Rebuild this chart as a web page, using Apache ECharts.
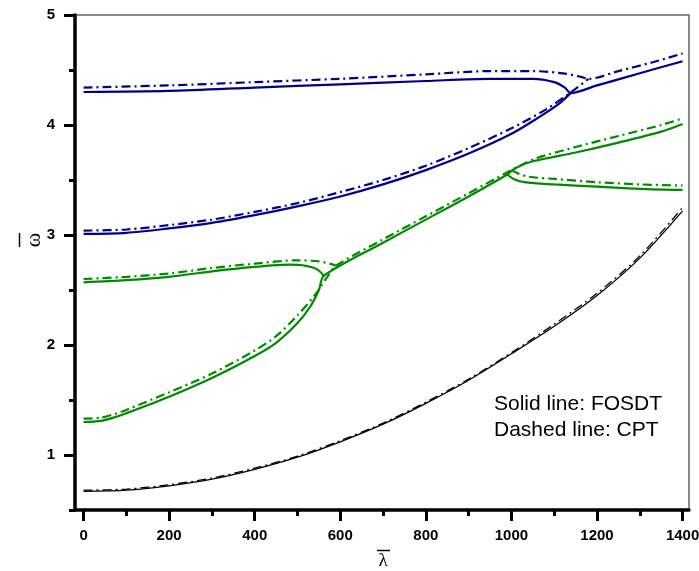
<!DOCTYPE html>
<html><head><meta charset="utf-8">
<script src="https://cdn.jsdelivr.net/npm/echarts@6/dist/echarts.min.js"></script>
<style>html,body{margin:0;padding:0;background:#fff}#c{width:699px;height:571px}</style>
</head><body><div id="c"></div>
<script>
// ---- data (lambda, omega) ----
const xMajorTicks = [0, 200, 400, 600, 800, 1000, 1200, 1400];
const xMinorTicks = [100, 300, 500, 700, 900, 1100, 1300];
const yMajorTicks = [1, 2, 3, 4, 5];
const yMinorTicks = [0.5, 1.5, 2.5, 3.5, 4.5];

// blue mode, FOSDT (solid)
const blueSolidA = [[0,4.30],[200,4.31],[400,4.34],[600,4.37],[800,4.40],[950,4.42],[1050,4.42],[1100,4.39],[1125,4.34],[1138,4.29],[1200,4.36],[1300,4.47],[1400,4.58]];
const blueSolidB = [[0,3.01],[100,3.02],[200,3.06],[300,3.11],[400,3.18],[500,3.26],[600,3.35],[700,3.46],[800,3.59],[900,3.74],[1000,3.92],[1060,4.06],[1110,4.19],[1138,4.29]];
// blue mode, CPT (dash-dot)
const blueDashA = [[0,4.34],[200,4.36],[400,4.39],[600,4.42],[800,4.46],[950,4.49],[1050,4.49],[1120,4.47],[1160,4.44],[1180,4.42],[1250,4.49],[1330,4.57],[1400,4.65]];
const blueDashB = [[0,3.04],[100,3.05],[200,3.09],[300,3.14],[400,3.21],[500,3.29],[600,3.39],[700,3.50],[800,3.63],[900,3.79],[1000,3.97],[1080,4.14],[1140,4.30],[1180,4.42]];

// green mode, FOSDT (solid)
const greenSolidA = [[0,1.30],[40,1.31],[70,1.34],[100,1.38],[200,1.53],[300,1.70],[400,1.90],[450,2.02],[500,2.20],[530,2.35],[550,2.50],[562,2.63],[700,2.93],[800,3.14],[900,3.35],[990,3.55],[1010,3.61],[1050,3.67],[1150,3.75],[1250,3.84],[1350,3.94],[1400,4.01]];
const greenSolidB = [[0,2.57],[100,2.59],[200,2.62],[300,2.67],[400,2.71],[480,2.73],[520,2.72],[545,2.69],[562,2.63]];
const greenSolidC = [[990,3.55],[1005,3.51],[1030,3.48],[1100,3.46],[1200,3.44],[1300,3.42],[1400,3.41]];
// green mode, CPT (dash-dot)
const greenDashA = [[0,1.33],[40,1.34],[70,1.37],[100,1.41],[200,1.57],[300,1.74],[400,1.95],[450,2.08],[500,2.27],[540,2.45],[570,2.62],[590,2.72],[700,2.96],[800,3.17],[900,3.38],[1000,3.59],[1020,3.63],[1060,3.70],[1150,3.80],[1250,3.90],[1350,4.00],[1400,4.06]];
const greenDashB = [[0,2.60],[100,2.62],[200,2.65],[300,2.70],[400,2.74],[500,2.77],[550,2.76],[575,2.74],[590,2.72]];
const greenDashC = [[1000,3.59],[1015,3.56],[1040,3.53],[1100,3.51],[1200,3.48],[1300,3.46],[1400,3.45]];

// third mode (black)
const blackSolid = [[0,0.67],[100,0.68],[200,0.72],[300,0.78],[400,0.87],[500,0.98],[600,1.12],[700,1.28],[800,1.47],[900,1.68],[1000,1.92],[1100,2.17],[1200,2.45],[1300,2.79],[1400,3.22]];
const blackDash = [[0,0.68],[100,0.69],[200,0.73],[300,0.79],[400,0.88],[500,0.99],[600,1.13],[700,1.29],[800,1.48],[900,1.69],[1000,1.93],[1100,2.19],[1200,2.47],[1300,2.81],[1400,3.25]];

const noteLines = ['Solid line: FOSDT', 'Dashed line: CPT'];
const xName = 'λ', yName = 'ω';

const NAVY = '#00008b', GREEN = '#008a00', BLACK = '#000000';
const DASH = [9, 4, 2, 4];

function line(data, color, dashed, width) {
  return {
    type: 'line', data: data, showSymbol: false, smooth: 0.3,
    lineStyle: { color: color, width: width, type: dashed ? DASH : 'solid' },
    xAxisIndex: 0, yAxisIndex: 0, silent: true, animation: false
  };
}

const chart = echarts.init(document.getElementById('c'), null, { renderer: 'canvas' });
const labelFont = { color: '#000', fontFamily: '"Liberation Sans", Arial', fontWeight: 'bold', fontSize: 15, formatter: v => String(v) };

chart.setOption({
  animation: false,
  backgroundColor: '#fff',
  grid: { left: 75, right: 10, top: 15, bottom: 61, show: true, borderColor: '#666', borderWidth: 1.5, containLabel: false, outerBoundsMode: 'none' },
  xAxis: [
    {
      type: 'value', min: -20, max: 1415, position: 'bottom',
      axisLine: { show: true, onZero: false, lineStyle: { color: '#000', width: 3.5 } },
      axisTick: { show: true, inside: false, length: 11, lineStyle: { color: '#000', width: 3 }, customValues: xMajorTicks },
      axisLabel: Object.assign({ margin: 18, customValues: xMajorTicks }, labelFont),
      splitLine: { show: false }
    },
    {
      type: 'value', min: -20, max: 1415, position: 'bottom',
      axisLine: { show: false, onZero: false },
      axisTick: { show: true, inside: false, length: 6, lineStyle: { color: '#000', width: 3 }, customValues: xMinorTicks },
      axisLabel: { show: false },
      splitLine: { show: false }
    }
  ],
  yAxis: [
    {
      type: 'value', min: 0.5, max: 5, position: 'left',
      axisLine: { show: true, onZero: false, lineStyle: { color: '#000', width: 3.5 } },
      axisTick: { show: true, inside: false, length: 11, lineStyle: { color: '#000', width: 3 }, customValues: yMajorTicks },
      axisLabel: Object.assign({ margin: 20, customValues: yMajorTicks }, labelFont),
      splitLine: { show: false }
    },
    {
      type: 'value', min: 0.5, max: 5, position: 'left',
      axisLine: { show: false, onZero: false },
      axisTick: { show: true, inside: false, length: 6, lineStyle: { color: '#000', width: 3 }, customValues: yMinorTicks },
      axisLabel: { show: false },
      splitLine: { show: false }
    }
  ],
  graphic: [
    { type: 'text', x: 494, y: 404.5, style: { text: noteLines[0], font: '21px "Liberation Sans", Arial', fill: '#000', verticalAlign: 'middle', align: 'left' } },
    { type: 'text', x: 494, y: 430.5, style: { text: noteLines[1], font: '21px "Liberation Sans", Arial', fill: '#000', verticalAlign: 'middle', align: 'left' } },
    // x axis title with overbar
    { type: 'text', x: 383, y: 561.5, style: { text: xName, font: '19px "Liberation Serif", serif', fill: '#000', verticalAlign: 'middle', align: 'center' } },
    { type: 'line', shape: { x1: 377, y1: 550.5, x2: 390, y2: 550.5 }, style: { stroke: '#000', lineWidth: 1.5 } },
    // y axis title with overbar (rotated)
    { type: 'text', x: 34, y: 240, rotation: Math.PI / 2, style: { text: yName, font: '22px "Liberation Serif", serif', fill: '#000', verticalAlign: 'middle', align: 'center' } },
    { type: 'line', shape: { x1: 19.5, y1: 233, x2: 19.5, y2: 247 }, style: { stroke: '#000', lineWidth: 1.5 } }
  ],
  series: [
    line(blackDash, BLACK, true, 1.3),
    line(blackSolid, BLACK, false, 1.3),
    line(greenDashA, GREEN, true, 2.2),
    line(greenDashB, GREEN, true, 2.2),
    line(greenDashC, GREEN, true, 2.2),
    line(greenSolidA, GREEN, false, 2.2),
    line(greenSolidB, GREEN, false, 2.2),
    line(greenSolidC, GREEN, false, 2.2),
    line(blueDashA, NAVY, true, 2.2),
    line(blueDashB, NAVY, true, 2.2),
    line(blueSolidA, NAVY, false, 2.2),
    line(blueSolidB, NAVY, false, 2.2)
  ]
});
</script></body></html>
